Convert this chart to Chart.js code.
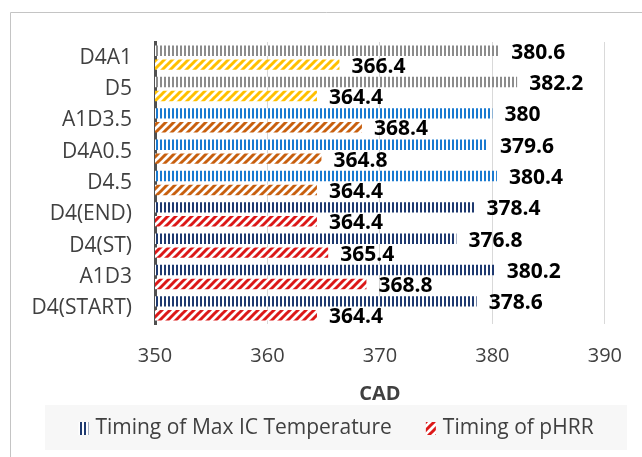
<!DOCTYPE html>
<html>
<head>
<meta charset="utf-8">
<script src="https://cdn.jsdelivr.net/npm/chart.js@4/dist/chart.umd.min.js"></script>
<style>
  html, body { margin: 0; padding: 0; background: #ffffff; }
  #wrap { position: relative; width: 642px; height: 457px; }
</style>
</head>
<body>
<div id="wrap"><canvas id="chart" width="642" height="457"></canvas></div>
<script>
// Injection-timing cases, listed top to bottom
const categories = ['D4A1', 'D5', 'A1D3.5', 'D4A0.5', 'D4.5', 'D4(END)', 'D4(ST)', 'A1D3', 'D4(START)'];
// Crank angle (CAD) of the maximum in-cylinder temperature
const maxIcTiming = [380.6, 382.2, 380, 379.6, 380.4, 378.4, 376.8, 380.2, 378.6];
// Crank angle (CAD) of the peak heat release rate
const pHRRTiming = [366.4, 364.4, 368.4, 364.8, 364.4, 364.4, 365.4, 368.8, 364.4];
const xTicks = [350, 360, 370, 380, 390];
const seriesNames = ['Timing of Max IC Temperature', 'Timing of pHRR'];
const axisTitle = 'CAD';

// Fill colours, one per case (cases are grouped by colour)
const stripeColours = ['#8c8c8c', '#8c8c8c', '#1a7ad0', '#1a7ad0', '#1a7ad0', '#1f3a70', '#1f3a70', '#1f3a70', '#1f3a70'];
const hatchColours  = ['#ffc000', '#ffc000', '#c8600f', '#c8600f', '#c8600f', '#dc1818', '#dc1818', '#dc1818', '#dc1818'];
const legendStripe = '#1f3a70';
const legendHatch = '#dc1818';

const TEXT = '#404040';
const FONT = '"Open Sans", "Noto Sans", sans-serif';

// Vertical-stripe pattern tile
function stripes(colour) {
  const t = document.createElement('canvas');
  t.width = 4; t.height = 4;
  const c = t.getContext('2d');
  c.fillStyle = '#ffffff'; c.fillRect(0, 0, 4, 4);
  c.fillStyle = colour; c.fillRect(0, 0, 2, 4);
  return c.createPattern(t, 'repeat');
}
// Wide upward-diagonal hatch pattern tile
function hatch(colour) {
  const t = document.createElement('canvas');
  t.width = 8; t.height = 8;
  const c = t.getContext('2d');
  c.fillStyle = '#ffffff'; c.fillRect(0, 0, 8, 8);
  c.strokeStyle = colour; c.lineWidth = 3; c.lineCap = 'square';
  [[-1, 1, 1, -1], [0, 8, 8, 0], [7, 9, 9, 7]].forEach(([x1, y1, x2, y2]) => {
    c.beginPath(); c.moveTo(x1, y1); c.lineTo(x2, y2); c.stroke();
  });
  return c.createPattern(t, 'repeat');
}

// Thin frame around the chart
const framePlugin = {
  id: 'frame',
  beforeDraw(chart) {
    const ctx = chart.ctx;
    ctx.save();
    ctx.strokeStyle = '#c4c4c4';
    ctx.lineWidth = 1;
    ctx.beginPath();
    ctx.moveTo(10.5, chart.height);
    ctx.lineTo(10.5, 12.5);
    ctx.lineTo(chart.width, 12.5);
    ctx.stroke();
    ctx.restore();
  }
};

// Value printed just past the end of every bar
const valueLabels = {
  id: 'valueLabels',
  afterDatasetsDraw(chart) {
    const ctx = chart.ctx;
    ctx.save();
    ctx.font = 'bold 21px ' + FONT;
    ctx.fillStyle = '#000000';
    ctx.textAlign = 'left';
    ctx.textBaseline = 'middle';
    chart.data.datasets.forEach((ds, i) => {
      chart.getDatasetMeta(i).data.forEach((bar, j) => {
        ctx.fillText(String(ds.data[j]), bar.x + 12, bar.y + 2);
      });
    });
    ctx.restore();
  }
};

// Legend in a shaded strip below the axis title
const stripLegend = {
  id: 'stripLegend',
  afterDraw(chart) {
    const ctx = chart.ctx;
    const top = 405, h = 45, left = 45, right = 627;
    ctx.save();
    ctx.fillStyle = '#f7f7f7';
    ctx.fillRect(left, top, right - left, h);
    ctx.font = '21px ' + FONT;
    const sw = 10, sh = 13, gapText = 7, gapItem = 34;
    const fills = [stripes(legendStripe), hatch(legendHatch)];
    const items = chart.data.datasets.map((ds, i) => ({ text: ds.label, fill: fills[i] }));
    const widths = items.map(it => sw + gapText + ctx.measureText(it.text).width);
    const total = widths.reduce((a, b) => a + b, 0) + gapItem * (items.length - 1);
    let x = (left + right) / 2 - total / 2;
    const cy = top + h / 2 + 1;
    items.forEach((it, i) => {
      ctx.fillStyle = it.fill;
      ctx.fillRect(x, cy - sh / 2, sw, sh);
      ctx.fillStyle = TEXT;
      ctx.textAlign = 'left';
      ctx.textBaseline = 'middle';
      ctx.fillText(it.text, x + sw + gapText, cy);
      x += widths[i] + gapItem;
    });
    ctx.restore();
  }
};

new Chart(document.getElementById('chart'), {
  type: 'bar',
  data: {
    labels: categories,
    datasets: [
      { label: seriesNames[0], data: maxIcTiming, backgroundColor: stripeColours.map(stripes), borderWidth: 0 },
      { label: seriesNames[1], data: pHRRTiming, backgroundColor: hatchColours.map(hatch), borderWidth: 0 }
    ]
  },
  options: {
    responsive: false,
    animation: false,
    indexAxis: 'y',
    layout: { padding: { top: 42, right: 34, left: 0, bottom: 0 } },
    datasets: { bar: { categoryPercentage: 0.89, barPercentage: 0.75 } },
    plugins: { legend: { display: false }, tooltip: { enabled: false } },
    scales: {
      x: {
        type: 'linear',
        min: xTicks[0],
        max: xTicks[xTicks.length - 1],
        afterBuildTicks: s => { s.ticks = xTicks.map(v => ({ value: v })); },
        afterFit: s => { s.height = 133; },
        grid: { color: '#d9d9d9', drawTicks: false, lineWidth: 1 },
        border: { display: false },
        ticks: { color: TEXT, font: { family: FONT, size: 20 }, padding: 20 },
        title: {
          display: true, text: axisTitle, color: TEXT,
          font: { family: FONT, size: 20, weight: 'bold' },
          padding: { top: 0, bottom: 51 }
        }
      },
      y: {
        afterFit: s => { s.width = 155; },
        grid: { display: false, drawTicks: false },
        border: { display: true, color: '#505050', width: 3 },
        ticks: { color: TEXT, font: { family: FONT, size: 21 }, padding: 23 }
      }
    }
  },
  plugins: [framePlugin, valueLabels, stripLegend]
});
</script>
</body>
</html>
